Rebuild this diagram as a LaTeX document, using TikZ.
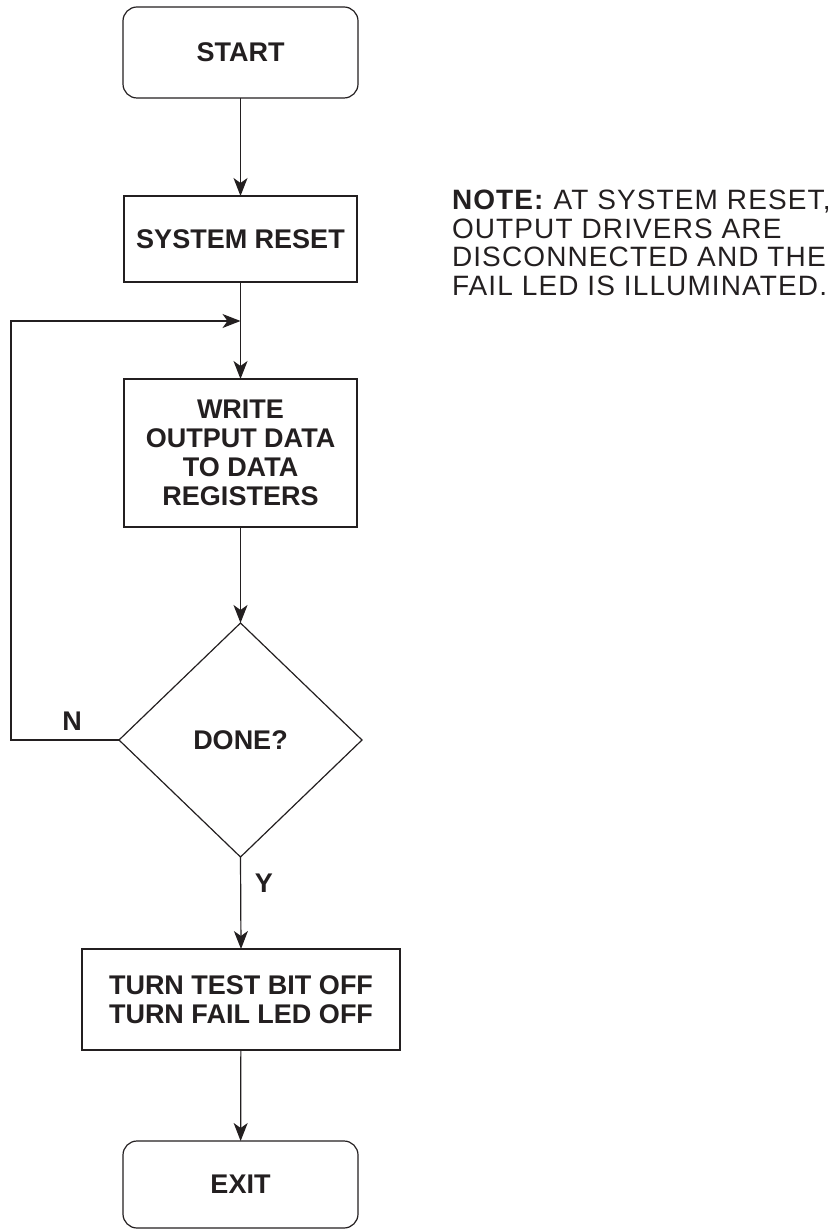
\documentclass[tikz,border=0pt]{standalone}
\usepackage{fontspec}
\setmainfont{Liberation Sans}
\usetikzlibrary{shapes.geometric,arrows.meta}
\definecolor{ink}{RGB}{35,31,32}
\begin{document}
\begin{tikzpicture}[x={(1pt,0pt)},y={(0pt,-1pt)},
  every node/.style={inner sep=0pt,outer sep=0pt,text=ink},
  boxtxt/.style={font=\bfseries\fontsize{27}{29}\selectfont,align=center},
  procbox/.style={draw=ink,line width=1.2pt,rectangle,boxtxt},
  termbox/.style={draw=ink,line width=1.2pt,rectangle,rounded corners=14pt,boxtxt},
  decbox/.style={draw=ink,line width=1.2pt,diamond,boxtxt},
  flow/.style={draw=ink,line width=1.2pt,-{Stealth[length=18pt,width=14pt,inset=5pt]}},
  lbl/.style={font=\bfseries\fontsize{27}{29}\selectfont}
]
\useasboundingbox (0,0) rectangle (837,1230);

\node[termbox,minimum width=235pt,minimum height=91pt] (start) at (240.5,52.5) {START};
\node[procbox,minimum width=233pt,minimum height=86pt] (reset) at (240.5,239) {SYSTEM RESET};
\node[procbox,minimum width=233pt,minimum height=148pt] (write) at (240.5,453) {WRITE\\OUTPUT DATA\\TO DATA\\REGISTERS};
\node[decbox,minimum width=243pt,minimum height=234pt] (done) at (240.5,740) {DONE?};
\node[procbox,minimum width=318pt,minimum height=101pt] (turn) at (241,999.5) {TURN TEST BIT OFF\\TURN FAIL LED OFF};
\node[termbox,minimum width=235pt,minimum height=87pt] (exit) at (240.5,1184.5) {EXIT};

\node[anchor=north west,align=left,font=\fontsize{28}{28.5}\selectfont\addfontfeatures{LetterSpace=4}] (note) at (452,190)
  {\textbf{NOTE:} AT SYSTEM RESET,\\OUTPUT DRIVERS ARE\\DISCONNECTED AND THE\\FAIL LED IS ILLUMINATED.};

\coordinate (join) at (240.5,321);
\coordinate (lp) at (11,321);

\draw[flow] (start) -- (reset);
\draw[draw=ink,line width=1.2pt] (reset.south) -- (join);
\draw[flow] (join) -- (write.north);
\draw[flow] (write) -- (done);
\draw[flow] (done.south) -- (turn.north);
\draw[flow] (turn) -- (exit);
\draw[flow] (done.west) -| (lp) -- (join);

\node[lbl] (nlbl) at (72,721) {N};
\node[lbl] (ylbl) at (264,883) {Y};
\end{tikzpicture}
\end{document}
